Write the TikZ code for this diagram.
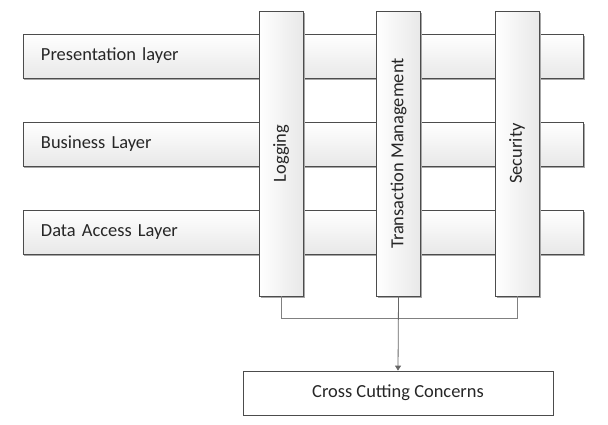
\documentclass[tikz,border=0pt]{standalone}
\usepackage{fontspec}
\setmainfont{Carlito}
\usetikzlibrary{shadows,arrows.meta}
\begin{document}
\begin{tikzpicture}[>={Triangle[length=5bp,width=6bp]}, x=1bp, y=-1bp,
    every node/.style={font=\fontsize{18.5}{21}\selectfont, text=black!85},
    layer/.style={draw=black!70, line width=.8bp, top color=white, bottom color=black!9,
        drop shadow={shadow xshift=1.5bp, shadow yshift=-1.5bp, fill=black!35, opacity=1},
        minimum width=560bp, minimum height=44bp, text width=524bp, align=left, inner xsep=18bp},
    column/.style={draw=black!70, line width=.8bp, left color=white, right color=black!9,
        drop shadow={shadow xshift=1.5bp, shadow yshift=-1.5bp, fill=black!35, opacity=1},
        minimum width=44bp, minimum height=285bp},
    conn/.style={draw=black!50, line width=.8bp}]
\useasboundingbox (0,0) rectangle (608,424);
% layers
\node[layer] (pres) at (303,56) {Presentation layer};
\node[layer] (bus) at (303,144) {Business Layer};
\node[layer] (data) at (303,232) {Data Access Layer};
% concerns
\node[column] (log) at (281,153.5) {};
\node[rotate=90] (logtxt) at (log) {Logging};
\node[column] (trans) at (398.5,153.5) {};
\node[rotate=90] (transtxt) at (trans) {Transaction Management};
\node[column] (sec) at (517,153.5) {};
\node[rotate=90] (sectxt) at (sec) {Security};

\node[draw=black!70, line width=.8bp, minimum width=310bp, minimum height=44bp] (ccc) at (398,393) {Cross Cutting Concerns};

\draw[conn] (log.south) -- ++(0,22) -| (sec.south);
\draw[conn,->,black!60] (trans.south) -- (ccc.north);
\end{tikzpicture}
\end{document}
